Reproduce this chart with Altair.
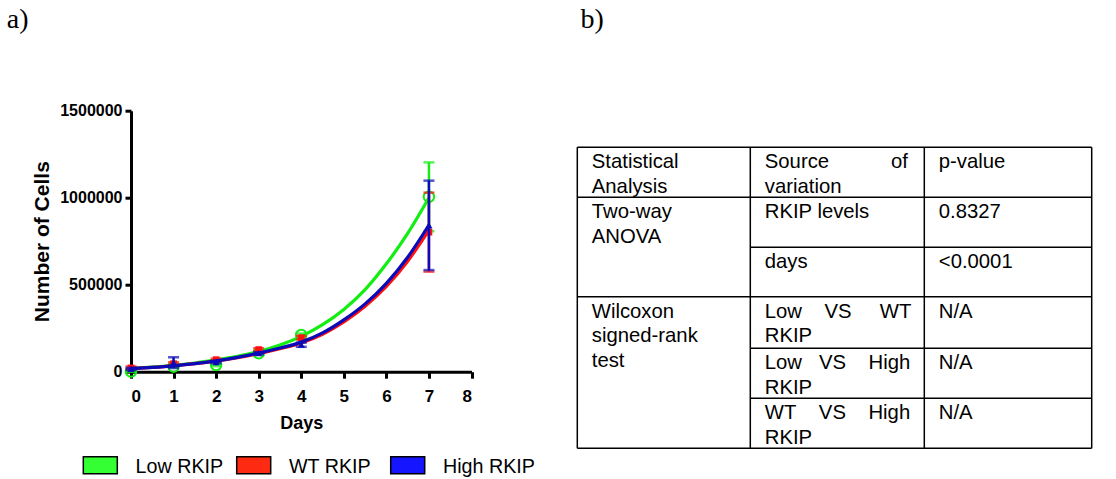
import altair as alt
import pandas as pd

# ---------------- data ----------------
groups = ["Low RKIP", "WT RKIP", "High RKIP"]
legend_index = [0, 1, 2]
line_colors = ["#12ee12", "#ff1010", "#0a0ab8"]
swatch_colors = ["#33ff33", "#ff2a12", "#1515ff"]

obs_days = [0, 1, 2, 3, 4, 7]
low_mean = [1000, 29000, 38000, 106000, 211000, 1005000]
low_sd = [1000, 5000, 6000, 8000, 8000, 198000]
wt_mean = [22000, 46000, 69000, 127000, 195000, 802000]
wt_sd = [8000, 8000, 6000, 8000, 10000, 227000]
high_mean = [16000, 52000, 55000, 106000, 155000, 841000]
high_sd = [6000, 31000, 6000, 6000, 12000, 257000]

fit_days = [0, 0.5, 1, 1.5, 2, 2.5, 3, 3.5, 4, 4.5, 5, 5.5, 6, 6.5, 7]
low_fit = [20000, 27000, 37000, 50000, 68000, 89000, 116000, 153000, 203000,
           270000, 358000, 472000, 620000, 795000, 1000000]
wt_fit = [18000, 25000, 34000, 46000, 61000, 80000, 104000, 132000, 165000,
          215000, 286000, 376000, 490000, 635000, 814000]
high_fit = [18000, 25000, 34000, 46000, 62000, 82000, 107000, 136000, 170000,
            223000, 298000, 390000, 508000, 658000, 843000]

x_ticks = [0, 1, 2, 3, 4, 5, 6, 7, 8]
y_ticks = [0, 500000, 1000000, 1500000]

# table content
NB = "\u00a0"
table_row = [0, 0, 0, 1, 1, 1, 2, 2, 3, 3, 3, 4, 4, 5, 5]
table_col = [0, 1, 2, 0, 1, 2, 1, 2, 0, 1, 2, 1, 2, 1, 2]
table_txt = [
    "Statistical\nAnalysis", "Source" + NB * 11 + "of\nvariation", "p-value",
    "Two-way\nANOVA", "RKIP levels", "0.8327",
    "days", "<0.0001",
    "Wilcoxon\nsigned-rank\ntest", "Low" + NB * 4 + "VS" + NB * 5 + "WT\nRKIP", "N/A",
    "Low" + NB * 3 + "VS" + NB * 4 + "High\nRKIP", "N/A",
    "WT" + NB * 4 + "VS" + NB * 4 + "High\nRKIP", "N/A",
]
hline_row = [0, 1, 2, 3, 4, 5, 6]
hline_from = [0, 0, 1, 0, 1, 1, 0]
hline_to = [3, 3, 3, 3, 3, 3, 3]
vline_col = [0, 1, 2, 3]
vline_from = [0, 0, 0, 0]
vline_to = [6, 6, 6, 6]
panel_labels = ["a)", "b)"]

# ---------------- tables ----------------
fit_df = pd.DataFrame(
    [{"group": g, "day": d, "cells": v}
     for g, vals in zip(groups, [low_fit, wt_fit, high_fit])
     for d, v in zip(fit_days, vals)]
)
obs_df = pd.DataFrame(
    [{"group": g, "day": d, "cells": m, "lo": m - s, "hi": m + s}
     for g, ms, ss in zip(groups, [low_mean, wt_mean, high_mean], [low_sd, wt_sd, high_sd])
     for d, m, s in zip(obs_days, ms, ss)]
)
tab_df = pd.DataFrame({"row": table_row, "col": table_col, "txt": table_txt})
h_df = pd.DataFrame({"row": hline_row, "c1": hline_from, "c2": hline_to})
v_df = pd.DataFrame({"col": vline_col, "r1": vline_from, "r2": vline_to})
leg_df = pd.DataFrame({"group": groups, "idx": legend_index})

# ---------------- plot (panel a) ----------------
FONT = "Liberation Sans"
x_scale = alt.Scale(domain=[0, 8], nice=False, zero=False)
y_scale = alt.Scale(domain=[0, 1500000], nice=False)
x_axis = alt.Axis(values=x_ticks, format="d", tickSize=6.5, labelPadding=10,
                  labelFontSize=17, titleFontSize=18, titleY=56.6,
                  titleBaseline="alphabetic", domainWidth=3, tickWidth=3)
y_axis = alt.Axis(values=y_ticks, format="d", tickSize=6, labelPadding=3,
                  labelFontSize=16, titleFontSize=21, titleX=-83, titleY=130.5,
                  titleAngle=270, titleBaseline="alphabetic", titleAlign="center",
                  domainWidth=3, tickWidth=3)
color = alt.Color("group:N", scale=alt.Scale(domain=groups, range=line_colors), legend=None)
X = alt.X("day:Q", scale=x_scale, axis=x_axis, title="Days")


def Yf(field):
    return alt.Y(field + ":Q", scale=y_scale, axis=y_axis, title="Number of Cells")


point_styles = {
    "Low RKIP": dict(shape="circle", filled=False, size=110, strokeWidth=2),
    "WT RKIP": dict(shape="square", filled=True, size=45),
    "High RKIP": dict(shape="triangle-up", filled=True, size=50),
}

plot_layers = []
for g in groups:
    flt = alt.datum.group == g
    base_o = alt.Chart(obs_df).transform_filter(flt)
    plot_layers.append(base_o.mark_rule(strokeWidth=2.5).encode(x=X, y=Yf("lo"), y2="hi:Q", color=color))
    plot_layers.append(base_o.mark_tick(orient="horizontal", size=11, thickness=2.5).encode(x=X, y=Yf("lo"), color=color))
    plot_layers.append(base_o.mark_tick(orient="horizontal", size=11, thickness=2.5).encode(x=X, y=Yf("hi"), color=color))
    plot_layers.append(base_o.mark_point(opacity=1, **point_styles[g]).encode(x=X, y=Yf("cells"), color=color))
    plot_layers.append(
        alt.Chart(fit_df).transform_filter(flt)
        .mark_line(strokeWidth=3.2, interpolate="monotone")
        .encode(x=X, y=Yf("cells"), color=color)
    )
plot = alt.layer(*plot_layers)

# ---------------- legend (drawn below panel a) ----------------
lx_scale = alt.Scale(domain=[0, 1, 2], range=[-30.7, 122.7, 276.7], nice=False, zero=False)
swatches = alt.Chart(leg_df).mark_point(
    shape="M-1,-0.5H1V0.5H-1Z", size=1156, filled=True, opacity=1,
    stroke="black", strokeWidth=1.5,
).encode(
    x=alt.X("idx:Q", scale=lx_scale, axis=None),
    y=alt.value(354.6),
    fill=alt.Fill("group:N", scale=alt.Scale(domain=groups, range=swatch_colors), legend=None),
)
leg_text = alt.Chart(leg_df).mark_text(
    align="left", baseline="middle", dx=35.3, font=FONT, fontSize=19.7, color="black"
).encode(
    x=alt.X("idx:Q", scale=lx_scale, axis=None),
    y=alt.value(355.8),
    text="group:N",
)
legend = alt.layer(swatches, leg_text)

# ---------------- table (panel b) ----------------
tx_scale = alt.Scale(domain=[0, 1, 2, 3], range=[446.3, 619.3, 793.3, 960.7], nice=False, zero=False)
ty_scale = alt.Scale(domain=[0, 1, 2, 3, 4, 5, 6],
                     range=[36.6, 86.6, 136.6, 186.0, 237.6, 287.6, 337.6], nice=False, zero=False)

hlines = alt.Chart(h_df).mark_rule(color="black", strokeWidth=1.5).encode(
    x=alt.X("c1:Q", scale=tx_scale, axis=None), x2="c2:Q",
    y=alt.Y("row:Q", scale=ty_scale, axis=None),
)
vlines = alt.Chart(v_df).mark_rule(color="black", strokeWidth=1.5).encode(
    x=alt.X("col:Q", scale=tx_scale, axis=None),
    y=alt.Y("r1:Q", scale=ty_scale, axis=None), y2="r2:Q",
)
texts = alt.Chart(tab_df).mark_text(
    align="left", baseline="alphabetic", dx=14.5, dy=21, lineBreak="\n",
    lineHeight=24.5, font=FONT, fontSize=20.3, color="black",
).encode(
    x=alt.X("col:Q", scale=tx_scale, axis=None),
    y=alt.Y("row:Q", scale=ty_scale, axis=None),
    text="txt:N",
)
table = alt.layer(hlines, vlines, texts)

# ---------------- panel labels ----------------
lab_a = alt.Chart(pd.DataFrame({"lab": [panel_labels[0]]})).mark_text(
    align="left", baseline="alphabetic", font="Liberation Serif", fontSize=28, color="black"
).encode(text="lab:N", x=alt.value(-124.3), y=alt.value(-82.7))
lab_b = alt.Chart(pd.DataFrame({"lab": [panel_labels[1]]})).mark_text(
    align="left", baseline="alphabetic", font="Liberation Serif", fontSize=28, color="black"
).encode(text="lab:N", x=alt.value(449.5), y=alt.value(-82.7))

chart = (
    alt.layer(plot, legend, table, lab_a, lab_b)
    .resolve_scale(x="independent", y="independent")
    .properties(
        width=340.5, height=261,
        padding={"left": 131, "top": 110.7, "right": 644.5, "bottom": 107.3},
        autosize=alt.AutoSizeParams(type="none"),
        background="white",
    )
    .configure_view(strokeWidth=0)
    .configure_axis(
        grid=False, domainColor="black", tickColor="black", labelColor="black",
        titleColor="black", labelFont=FONT, titleFont=FONT,
        labelFontWeight="bold", titleFontWeight="bold",
    )
)

chart.save("out.html", embed_options={"renderer": "svg", "actions": False})
